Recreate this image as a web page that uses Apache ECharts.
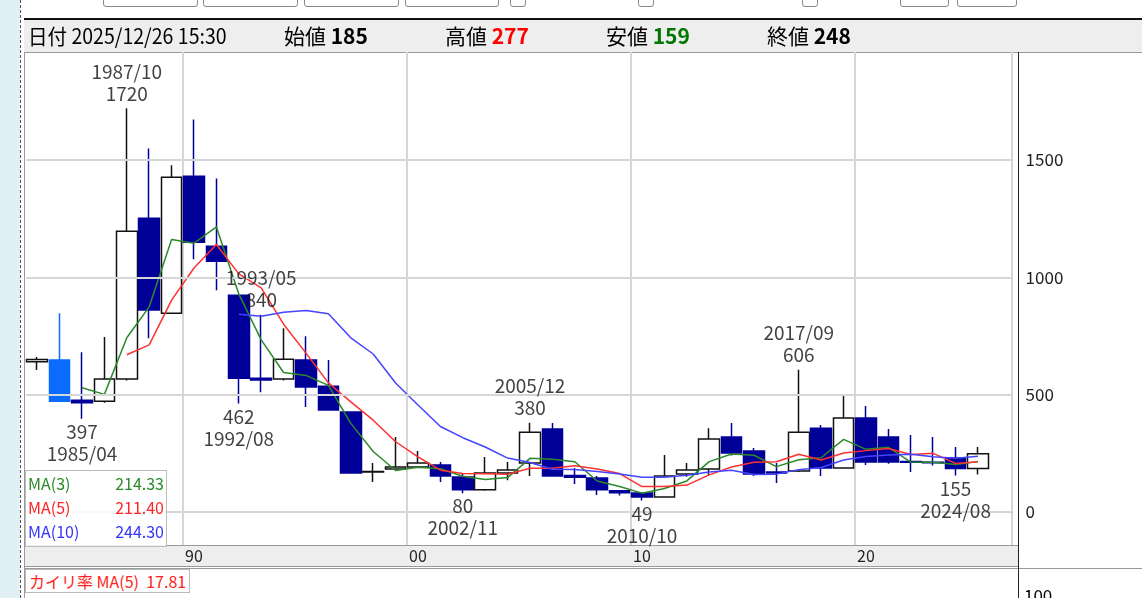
<!DOCTYPE html>
<html><head><meta charset="utf-8">
<script src="https://cdn.jsdelivr.net/npm/echarts@6/dist/echarts.min.js"></script>
<style>
body{margin:0;width:1142px;height:598px;overflow:hidden;background:#fff;font-family:"Noto Sans CJK JP","Noto Sans",sans-serif;position:relative}
.abs{position:absolute}
.btn{position:absolute;top:-6px;height:11px;border:1px solid #888;border-radius:3px;background:#fff}
</style></head><body>
<div class="abs" style="left:0;top:0;width:20px;height:598px;background:#e0f0f5"></div>
<div class="abs" style="left:20px;top:0;width:0;height:598px;border-left:1px dashed #555"></div>
<div class="btn" style="left:103px;width:93px"></div><div class="btn" style="left:203px;width:93px"></div>
<div class="btn" style="left:304px;width:93px"></div><div class="btn" style="left:405px;width:92px"></div>
<div class="btn" style="left:510px;width:14px"></div><div class="btn" style="left:638px;width:14px"></div>
<div class="btn" style="left:802px;width:14px"></div>
<div class="btn" style="left:900px;width:47px"></div><div class="btn" style="left:957px;width:58px"></div>
<div class="abs" style="left:24px;top:18px;width:1118px;height:32px;background:#eee;border-top:2px solid #111;border-bottom:1px solid #999"></div>
<div class="abs" style="left:25px;top:545px;width:993px;height:20px;background:#eee;border-top:1px solid #999;border-bottom:1px solid #999"></div>
<div class="abs" style="left:24px;top:568px;width:1118px;height:30px;border-top:1px solid #999;"></div>
<div class="abs" style="left:1018px;top:52px;width:0;height:546px;border-left:1px solid #222"></div>
<div class="abs" style="left:24px;top:52px;width:0;height:546px;border-left:1px solid #999"></div>
<div id="c" class="abs" style="left:0;top:0;width:1142px;height:598px"></div>
<div class="abs" style="left:28px;top:22px;font-size:21px;white-space:nowrap;line-height:26px;transform:scaleX(0.93);transform-origin:left">日付 2025/12/26 15:30</div>
<div class="abs" style="left:284px;top:22px;font-size:21px;line-height:26px">始値 <b>185</b></div>
<div class="abs" style="left:445px;top:22px;font-size:21px;line-height:26px">高値 <b style="color:#f00">277</b></div>
<div class="abs" style="left:606px;top:22px;font-size:21px;line-height:26px">安値 <b style="color:#070">159</b></div>
<div class="abs" style="left:767px;top:22px;font-size:21px;line-height:26px">終値 <b>248</b></div>
<div class="abs" style="left:25px;top:470px;width:140px;height:75px;background:rgba(255,255,255,0.85);border:1px solid #bbb;font-size:16px;line-height:24px">
<div style="color:#2a8a2a;display:flex;justify-content:space-between;padding:0 2px">MA(3)<span id="m3"></span></div>
<div style="color:#f22;display:flex;justify-content:space-between;padding:0 2px">MA(5)<span id="m5"></span></div>
<div style="color:#33f;display:flex;justify-content:space-between;padding:0 2px">MA(10)<span id="m10"></span></div>
</div>
<div class="abs" style="left:25px;top:569px;font-size:16px;color:#f22;border:1px solid #bbb;padding:0 3px;background:#fff;line-height:22px">カイリ率 MA(5)&nbsp;&nbsp;17.81</div>
<div class="abs" style="left:1024px;top:582px;font-size:17px">100</div>
<script>
const years=[];for(let y=1983;y<=2026;y++)years.push(String(y));
// [open, close, low, high]
const candles=[
[640,650,605,660],[647,472,472,847],[476,465,397,680],[472,566,465,745],[566,1196,560,1720],
[1251,860,740,1549],[847,1426,847,1477],[1430,1149,1077,1672],[1132,1068,945,1421],[923,570,462,923],
[570,562,510,840],[566,651,560,783],[647,532,447,749],[536,434,434,647],[426,166,166,426],
[170,172,128,208],[183,191,180,319],[191,208,188,260],[200,153,128,213],[149,94,80,166],
[94,166,90,234],[166,179,135,213],[208,340,153,380],[353,153,150,379],[155,148,119,187],
[145,94,72,153],[90,82,70,92],[81,64,49,81],[64,153,60,243],[162,179,150,208],
[183,311,157,357],[319,251,240,379],[260,162,153,272],[170,166,123,208],[174,340,170,606],
[357,187,153,370],[187,400,187,498],[400,213,200,451],[319,213,205,353],[215,212,170,328],
[212,210,198,319],[230,185,155,277],[185,248,159,277]];
const annotations=[
['1987',1720,'1987/10\n1720','top'],['1985',397,'397\n1985/04','bottom'],
['1993',840,'1993/05\n840','top'],['1992',462,'462\n1992/08','bottom'],
['2002',80,'80\n2002/11','bottom'],['2005',380,'2005/12\n380','top'],
['2010',49,'49\n2010/10','bottom'],['2017',606,'2017/09\n606','top'],
['2024',155,'155\n2024/08','bottom']];
const legendValues=['214.33','211.40','244.30'];
const xTickIdx=[7,17,27,37], xTickText=['90','00','10','20'];
const yTicks=[0,500,1000,1500];
const closes=candles.map(c=>c[1]);
function ma(n){return closes.map((v,i)=>{if(i<n-1)return '-';let s=0;for(let k=i-n+1;k<=i;k++)s+=closes[k];return +(s/n).toFixed(2);});}
const ma3=ma(3),ma5=ma(5),ma10=ma(10);
document.getElementById('m3').textContent=legendValues[0];
document.getElementById('m5').textContent=legendValues[1];
document.getElementById('m10').textContent=legendValues[2];
const cdata=candles.map((c,i)=>i===1?{value:c,itemStyle:{color0:'#0a6cff',borderColor0:'#0a6cff'}}:c);
const chart=echarts.init(document.getElementById('c'));
const F='"Noto Sans CJK JP","Noto Sans",sans-serif';
chart.setOption({animation:false,
grid:{left:26,top:52,width:985.6,height:493},
xAxis:{type:'category',data:years,boundaryGap:true,
 axisLine:{lineStyle:{color:'#999'}},axisTick:{show:false},
 splitLine:{show:true,interval:(i)=>xTickIdx.includes(i),lineStyle:{color:'#d6d6d6',width:2}},
 axisLabel:{interval:(i)=>xTickIdx.includes(i),formatter:(v,i)=>xTickText[xTickIdx.indexOf(i)]||'',fontSize:16,color:'#222',margin:3,fontFamily:F}},
yAxis:{type:'value',position:'right',min:-141,max:1960,
 axisLine:{show:false},axisTick:{show:false},splitLine:{show:false},
 axisLabel:{customValues:yTicks,formatter:v=>String(v),fontSize:17,color:'#222',margin:14,fontFamily:F}},
series:[
{type:'candlestick',data:cdata,barWidth:21,
 itemStyle:{color:'#fff',borderColor:'#111',color0:'#000099',borderColor0:'#000099',borderWidth:1.5},
 markLine:{silent:true,symbol:'none',label:{show:false},lineStyle:{color:'#d6d6d6',type:'solid',width:2},data:yTicks.map(v=>({yAxis:v}))},z:3},
{type:'line',data:ma3,symbol:'none',lineStyle:{color:'#2a8a2a',width:1.5},z:4},
{type:'line',data:ma5,symbol:'none',lineStyle:{color:'#ff3030',width:1.5},z:4},
{type:'line',data:ma10,symbol:'none',lineStyle:{color:'#4444ff',width:1.5},z:4},
{type:'scatter',symbolSize:0,z:5,data:annotations.map(a=>({value:[a[0],a[1]],label:{show:true,formatter:a[2],position:a[3],distance:a[3]==='top'?4:2,fontSize:19,color:'#111',lineHeight:22,fontFamily:F}}))}
]});
</script></body></html>
